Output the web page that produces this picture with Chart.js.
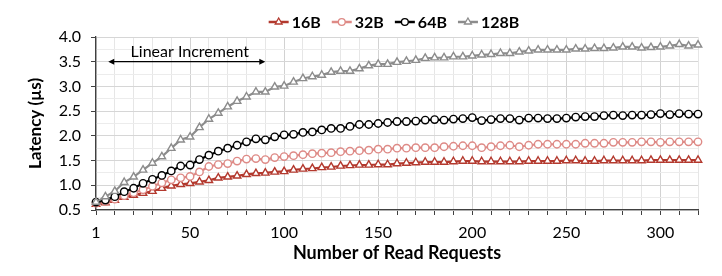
<!DOCTYPE html>
<html>
<head>
<meta charset="utf-8">
<script src="https://cdn.jsdelivr.net/npm/chart.js@4.4.1/dist/chart.umd.min.js"></script>
<style>
  html, body { margin: 0; padding: 0; background: #fff; }
</style>
</head>
<body>
<canvas id="chart" width="722" height="276"></canvas>
<script>
// x categories: number of read requests
const requests = [
  1, 5, 10, 15, 20, 25, 30, 35, 40, 45,
  50, 55, 60, 65, 70, 75, 80, 85, 90, 95,
  100, 105, 110, 115, 120, 125, 130, 135, 140, 145,
  150, 155, 160, 165, 170, 175, 180, 185, 190, 195,
  200, 205, 210, 215, 220, 225, 230, 235, 240, 245,
  250, 255, 260, 265, 270, 275, 280, 285, 290, 295,
  300, 305, 310, 315, 320
];

// latency in microseconds, one value per category
const lat16 = [
  0.62, 0.65, 0.70, 0.76, 0.80, 0.84, 0.88, 0.94, 0.99, 1.02,
  1.04, 1.07, 1.10, 1.15, 1.17, 1.19, 1.22, 1.24, 1.25, 1.27,
  1.28, 1.31, 1.33, 1.34, 1.36, 1.37, 1.39, 1.40, 1.41, 1.41,
  1.42, 1.42, 1.44, 1.45, 1.46, 1.47, 1.47, 1.47, 1.48, 1.49,
  1.49, 1.48, 1.48, 1.48, 1.48, 1.48, 1.49, 1.49, 1.49, 1.49,
  1.50, 1.50, 1.49, 1.49, 1.50, 1.50, 1.50, 1.50, 1.50, 1.51,
  1.51, 1.51, 1.51, 1.51, 1.51
];
const lat32 = [
  0.64, 0.67, 0.72, 0.79, 0.85, 0.91, 0.98, 1.05, 1.11, 1.15,
  1.18, 1.27, 1.38, 1.42, 1.44, 1.49, 1.53, 1.54, 1.52, 1.56,
  1.58, 1.60, 1.62, 1.64, 1.65, 1.66, 1.68, 1.69, 1.70, 1.71,
  1.73, 1.73, 1.75, 1.75, 1.76, 1.76, 1.76, 1.78, 1.79, 1.80,
  1.80, 1.76, 1.78, 1.80, 1.81, 1.78, 1.81, 1.83, 1.83, 1.83,
  1.83, 1.83, 1.85, 1.85, 1.85, 1.87, 1.87, 1.87, 1.88, 1.88,
  1.87, 1.88, 1.88, 1.88, 1.88
];
const lat64 = [
  0.66, 0.70, 0.77, 0.87, 0.94, 1.04, 1.12, 1.20, 1.29, 1.39,
  1.41, 1.52, 1.61, 1.69, 1.75, 1.81, 1.88, 1.94, 1.92, 1.98,
  2.02, 2.03, 2.07, 2.08, 2.12, 2.15, 2.15, 2.19, 2.23, 2.23,
  2.25, 2.27, 2.29, 2.29, 2.30, 2.32, 2.33, 2.32, 2.34, 2.35,
  2.37, 2.31, 2.33, 2.35, 2.35, 2.32, 2.36, 2.36, 2.35, 2.35,
  2.36, 2.38, 2.39, 2.39, 2.41, 2.42, 2.41, 2.42, 2.42, 2.43,
  2.45, 2.43, 2.45, 2.44, 2.44
];
const lat128 = [
  0.66, 0.77, 0.88, 1.06, 1.17, 1.31, 1.45, 1.58, 1.75, 1.92,
  1.98, 2.17, 2.34, 2.46, 2.59, 2.70, 2.79, 2.89, 2.89, 2.99,
  3.01, 3.09, 3.16, 3.20, 3.23, 3.29, 3.31, 3.31, 3.36, 3.42,
  3.45, 3.45, 3.49, 3.51, 3.53, 3.57, 3.58, 3.58, 3.60, 3.60,
  3.62, 3.64, 3.65, 3.67, 3.67, 3.70, 3.72, 3.74, 3.74, 3.74,
  3.74, 3.76, 3.76, 3.77, 3.77, 3.78, 3.80, 3.80, 3.78, 3.79,
  3.80, 3.82, 3.85, 3.82, 3.84
];

const seriesNames = ['16B', '32B', '64B', '128B'];

// "Linear Increment" note: arrow spans these category positions at y = 3.5
const noteText = 'Linear Increment';
const noteFrom = 1.3;
const noteTo = 18;
const noteLevel = 3.5;
const noteTextLevel = 3.69;

const FONT = 'Lato, "Open Sans", "DejaVu Sans", sans-serif';
const AXIS_DARK = '#404040';
const TRANSPARENT = 'rgba(0,0,0,0)';

function isMajorY(v) {
  return Math.abs((v - 0.5) / 0.5 - Math.round((v - 0.5) / 0.5)) < 1e-6;
}

function markerRadius(style) {
  return style === 'triangle' ? 4.3 : 3.7;
}

function makeSeries(label, data, color, style, order) {
  return {
    label: label,
    data: data,
    borderColor: color,
    backgroundColor: '#ffffff',
    pointBackgroundColor: '#ffffff',
    pointBorderColor: color,
    pointStyle: style,
    pointRadius: markerRadius(style),
    pointBorderWidth: 1.4,
    borderWidth: 2.2,
    tension: 0,
    clip: false,
    order: order
  };
}

// legend drawn as Excel does: a short line with the marker on it, then bold text
const legendPlugin = {
  id: 'lineLegend',
  afterDraw(chart) {
    const ctx = chart.ctx;
    const area = chart.chartArea;
    const sets = chart.data.datasets;
    const lineW = 20, gap = 3, itemGap = 11;
    ctx.save();
    ctx.font = 'bold 16px ' + FONT;
    const widths = sets.map(ds => ctx.measureText(ds.label).width);
    let total = 0;
    widths.forEach(w => { total += lineW + gap + w; });
    total += itemGap * (sets.length - 1);
    let x = (area.left + area.right) / 2 - 3 - total / 2;
    const y = 22;
    sets.forEach((ds, i) => {
      ctx.strokeStyle = ds.borderColor;
      ctx.lineWidth = 2.5;
      ctx.beginPath();
      ctx.moveTo(x, y);
      ctx.lineTo(x + lineW, y);
      ctx.stroke();
      ctx.fillStyle = '#ffffff';
      ctx.strokeStyle = ds.borderColor;
      ctx.lineWidth = 1.3;
      Chart.helpers.drawPoint(ctx, {
        pointStyle: ds.pointStyle,
        radius: ds.pointStyle === 'triangle' ? 4 : 3.4,
        borderWidth: 1.3,
        rotation: 0
      }, x + lineW / 2, y);
      ctx.fillStyle = '#000000';
      ctx.textAlign = 'left';
      ctx.textBaseline = 'middle';
      ctx.fillText(ds.label, x + lineW + gap, y + 1);
      x += lineW + gap + widths[i] + itemGap;
    });
    ctx.restore();
  }
};

const notePlugin = {
  id: 'linearNote',
  afterDatasetsDraw(chart) {
    const ctx = chart.ctx;
    const xs = chart.scales.x, ys = chart.scales.y;
    const x0 = xs.getPixelForValue(noteFrom);
    const x1 = xs.getPixelForValue(noteTo);
    const yy = ys.getPixelForValue(noteLevel);
    const head = 5;
    ctx.save();
    ctx.strokeStyle = '#000';
    ctx.fillStyle = '#000';
    ctx.lineWidth = 1.2;
    ctx.beginPath();
    ctx.moveTo(x0 + 2, yy);
    ctx.lineTo(x1 - 2, yy);
    ctx.stroke();
    ctx.beginPath();
    ctx.moveTo(x0, yy);
    ctx.lineTo(x0 + head + 1, yy - head / 2 - 0.5);
    ctx.lineTo(x0 + head + 1, yy + head / 2 + 0.5);
    ctx.closePath();
    ctx.fill();
    ctx.beginPath();
    ctx.moveTo(x1, yy);
    ctx.lineTo(x1 - head - 1, yy - head / 2 - 0.5);
    ctx.lineTo(x1 - head - 1, yy + head / 2 + 0.5);
    ctx.closePath();
    ctx.fill();
    ctx.font = '16px ' + FONT;
    ctx.textAlign = 'center';
    ctx.textBaseline = 'middle';
    ctx.fillText(noteText, (x0 + x1) / 2 + 3, ys.getPixelForValue(noteTextLevel));
    ctx.restore();
  }
};

const ctx = document.getElementById('chart').getContext('2d');
new Chart(ctx, {
  type: 'line',
  data: {
    labels: requests.map(String),
    datasets: [
      makeSeries(seriesNames[0], lat16, '#B3392E', 'triangle', 3),
      makeSeries(seriesNames[1], lat32, '#DE8A86', 'circle', 2),
      makeSeries(seriesNames[2], lat64, '#000000', 'circle', 1),
      makeSeries(seriesNames[3], lat128, '#8C8C8C', 'triangle', 0)
    ]
  },
  options: {
    responsive: false,
    animation: false,
    layout: { padding: { top: 37, right: 24, left: 0, bottom: 0 } },
    plugins: {
      legend: { display: false },
      tooltip: { enabled: false }
    },
    scales: {
      x: {
        type: 'category',
        offset: false,
        afterFit: s => { s.height = 66; },
        border: { color: AXIS_DARK, width: 1.3 },
        grid: {
          color: c => c.index % 10 === 0 ? '#d2d2d2' : (c.index % 2 === 0 ? '#e6e6e6' : TRANSPARENT),
          tickColor: c => c.index % 2 === 0 ? AXIS_DARK : TRANSPARENT,
          tickLength: 5,
          lineWidth: 1
        },
        ticks: {
          autoSkip: false,
          maxRotation: 0,
          padding: 8,
          color: '#000',
          font: { family: FONT, size: 16 },
          callback: (v, i) => i % 10 === 0 ? String(requests[i]) : ''
        },
        title: {
          display: true,
          text: 'Number of Read Requests',
          color: '#000',
          font: { family: FONT, size: 18, weight: 'bold' },
          padding: { top: 0, bottom: 12 }
        }
      },
      y: {
        min: 0.5,
        max: 4.0,
        afterFit: s => { s.width = 96; },
        border: { color: AXIS_DARK, width: 1.3 },
        grid: {
          color: c => isMajorY(c.tick.value) ? '#d6d6d6' : '#ececec',
          tickColor: c => isMajorY(c.tick.value) ? AXIS_DARK : TRANSPARENT,
          tickLength: 5,
          lineWidth: 1
        },
        ticks: {
          stepSize: 0.25,
          autoSkip: false,
          padding: 10,
          color: '#000',
          font: { family: FONT, size: 16 },
          callback: v => isMajorY(v) ? Number(v).toFixed(1) : ''
        },
        title: {
          display: true,
          text: 'Latency (µs)',
          color: '#000',
          font: { family: FONT, size: 17, weight: 'bold' },
          padding: { top: 25, bottom: 0 }
        }
      }
    }
  },
  plugins: [notePlugin, legendPlugin]
});
</script>
</body>
</html>
